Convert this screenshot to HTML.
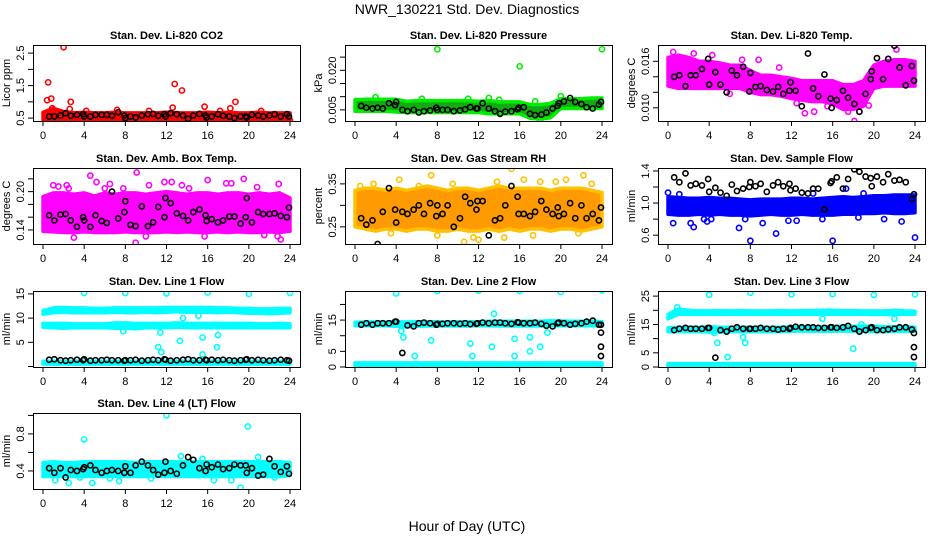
<!DOCTYPE html>
<html><head><meta charset="utf-8">
<style>
html,body{margin:0;padding:0;background:#fff;}
svg{display:block;font-family:"Liberation Sans",sans-serif;}
</style></head>
<body>
<svg id="chart" width="936" height="540" viewBox="0 0 936 540">
<text x="467" y="14" text-anchor="middle" font-size="14">NWR_130221  Std. Dev. Diagnostics</text>
<text x="467" y="531" text-anchor="middle" font-size="14">Hour of Day (UTC)</text>
</svg>
<script>
// ---------- data ----------
const bandHours = [0,1,2,3,4,5,6,7,8,9,10,11,12,13,14,15,16,17,18,19,20,21,22,23,24];
const blackHours = [0.6,1.1,1.7,2.2,2.7,3.3,3.9,4.0,4.6,5.1,5.7,6.2,6.7,7.3,7.9,8.0,8.5,9.0,9.6,10.2,10.7,11.2,11.8,11.9,12.4,13.0,13.6,14.1,14.6,15.2,15.8,15.9,16.4,17.0,17.5,18.1,18.6,19.2,19.7,19.8,20.3,20.9,21.4,22.0,22.5,23.1,23.7,23.9];
const xTicks = [0,4,8,12,16,20,24];

// P1 CO2
const co2Lo = [0.45,0.45,0.45,0.45,0.45,0.45,0.45,0.45,0.45,0.45,0.45,0.45,0.45,0.45,0.45,0.45,0.45,0.45,0.45,0.45,0.45,0.45,0.45,0.45,0.45];
const co2Hi = [0.68,0.8,0.7,0.66,0.68,0.66,0.66,0.68,0.66,0.66,0.66,0.66,0.68,0.66,0.66,0.66,0.68,0.66,0.68,0.66,0.66,0.68,0.66,0.66,0.66];
const co2OutX = [0.5,0.4,0.8,2.0,2.7,12.8,13.5,15.7,18.7,18.2,7.2,12.6,24.0,0.9,2.6,4.2,10.3,17.2,21.2];
const co2OutY = [1.6,1.05,1.1,2.68,1.0,1.55,1.35,0.85,1.0,0.8,0.75,0.82,0.42,0.8,0.78,0.72,0.72,0.72,0.72];
const co2Black = [0.55,0.55,0.58,0.65,0.57,0.6,0.62,0.55,0.55,0.6,0.6,0.6,0.57,0.68,0.58,0.5,0.55,0.52,0.58,0.62,0.63,0.57,0.62,0.55,0.65,0.62,0.58,0.48,0.58,0.63,0.58,0.52,0.55,0.62,0.57,0.55,0.5,0.55,0.55,0.52,0.6,0.58,0.55,0.58,0.62,0.55,0.62,0.55];

// P2 Pressure (kPa)
const presLo = [0.0045,0.0045,0.0045,0.0045,0.0042,0.004,0.004,0.004,0.004,0.004,0.004,0.004,0.004,0.0035,0.0035,0.0035,0.0035,0.0018,0.0015,0.002,0.0055,0.0055,0.0055,0.0055,0.0055];
const presHi = [0.0088,0.009,0.009,0.009,0.009,0.0082,0.0085,0.0085,0.0085,0.0085,0.0085,0.0085,0.0082,0.0085,0.008,0.008,0.008,0.007,0.007,0.0075,0.0092,0.0092,0.0092,0.0095,0.0095];
const presOutX = [8,16,24,13,18,2,6.5,11,14,17.5,20];
const presOutY = [0.028,0.0215,0.028,0.0095,0.001,0.0098,0.0092,0.0092,0.0088,0.0082,0.0102];
const presBlack = [6.5,5.8,5.5,5.8,5.5,7.5,6.8,8,5,4.5,5,4,4.5,4.8,5.8,5,5,5,4.5,4.8,5.2,6,5.5,5.5,7.5,5.5,4.5,3.5,4.3,4.5,5.2,5.8,6,3.5,3,3.2,4,5.5,6.5,7.5,8.2,9.5,8,7.2,6,5.5,7,8].map(v=>v/1000);

// P3 Li-820 Temp
const tempLo = [0.0128,0.0125,0.0125,0.0125,0.0125,0.0125,0.0125,0.0125,0.012,0.0117,0.0117,0.0115,0.0112,0.011,0.0108,0.0108,0.0105,0.0098,0.0098,0.0102,0.0125,0.0128,0.0128,0.0128,0.0128];
const tempHi = [0.0165,0.0168,0.0165,0.016,0.016,0.0158,0.0155,0.0155,0.0148,0.0142,0.0142,0.014,0.0138,0.0135,0.0135,0.0135,0.0135,0.013,0.013,0.0135,0.0155,0.016,0.0162,0.0162,0.016];
const tempOutX = [22.2,18.1,13.3,0.5,2.5,7.2,8.8,14.2,17.5,4.3,10.8,12.5,15.5,19.5,6.0];
const tempOutY = [0.0175,0.0083,0.0093,0.0172,0.0170,0.0162,0.0162,0.0095,0.0095,0.0168,0.0152,0.0106,0.0102,0.0103,0.0118];
const tempBlack = [14.0,14.2,12.8,14.2,14.2,15.0,16.3,13.0,14.6,13.0,12.0,14.8,14.2,15.3,12.1,14.5,12.7,12.8,12.3,12.1,12.7,11.8,12.2,13.3,12.2,10.2,17.0,12.5,11.5,14.3,11.2,10.0,11.0,12.2,11.3,10.5,9.5,11.8,13.7,14.7,16.4,13.7,16.3,18.0,15.2,12.9,15.4,13.5].map(v=>v/1000);

// P4 Amb Box Temp
const ambLo = [0.138,0.137,0.136,0.136,0.137,0.136,0.136,0.136,0.137,0.136,0.136,0.136,0.137,0.136,0.137,0.136,0.136,0.137,0.136,0.137,0.136,0.136,0.137,0.136,0.138];
const ambHi = [0.192,0.198,0.198,0.196,0.198,0.193,0.198,0.196,0.198,0.198,0.196,0.198,0.2,0.198,0.196,0.198,0.198,0.196,0.198,0.198,0.196,0.198,0.196,0.198,0.19];
const ambOutX = [4.6,9.1,9.0,22.8,1.0,12.5,16,19.5,5.2,1.5,2.3,6.5,7.8,10.3,11.8,13.5,14.2,17.8,18.3,20.8,22.9,0.2,3.0,10.0,15.7,21.5,23.1,2.5,6.0];
const ambOutY = [0.225,0.23,0.12,0.13,0.21,0.215,0.218,0.22,0.215,0.208,0.21,0.212,0.205,0.21,0.215,0.21,0.205,0.213,0.213,0.207,0.212,0.15,0.128,0.13,0.13,0.132,0.125,0.205,0.205];
const ambBlack = [0.163,0.155,0.164,0.165,0.155,0.145,0.160,0.155,0.145,0.163,0.154,0.151,0.20,0.158,0.168,0.185,0.148,0.146,0.177,0.146,0.152,0.176,0.160,0.190,0.182,0.166,0.162,0.155,0.168,0.172,0.163,0.154,0.157,0.152,0.155,0.161,0.161,0.150,0.160,0.190,0.152,0.168,0.165,0.165,0.166,0.162,0.160,0.175];

// P5 Gas Stream RH
const rhLo = [0.25,0.245,0.24,0.245,0.245,0.24,0.245,0.245,0.24,0.24,0.245,0.24,0.24,0.245,0.24,0.245,0.24,0.245,0.245,0.24,0.245,0.245,0.24,0.245,0.25];
const rhHi = [0.335,0.34,0.34,0.335,0.34,0.335,0.34,0.345,0.34,0.335,0.34,0.34,0.335,0.34,0.345,0.34,0.34,0.34,0.34,0.335,0.34,0.34,0.34,0.335,0.33];
const rhOutX = [15.2,10.6,22.2,4.3,7.4,19.5,12.0,1.8,6.2,9.5,13.8,16.4,18.0,20.5,23.0,0.5,3.5,8.0,11.5,14.5,17.3,21.7];
const rhOutY = [0.385,0.215,0.37,0.36,0.37,0.355,0.22,0.35,0.345,0.35,0.355,0.36,0.355,0.36,0.35,0.345,0.235,0.23,0.225,0.225,0.23,0.235];
const rhBlack = [0.27,0.255,0.265,0.21,0.285,0.34,0.29,0.26,0.285,0.28,0.29,0.30,0.28,0.305,0.275,0.30,0.28,0.30,0.25,0.27,0.32,0.305,0.29,0.31,0.31,0.23,0.265,0.27,0.30,0.345,0.32,0.28,0.28,0.275,0.285,0.31,0.29,0.28,0.295,0.275,0.28,0.305,0.27,0.30,0.27,0.28,0.265,0.295];

// P6 Sample Flow
const sfLo = [0.86,0.85,0.85,0.86,0.85,0.86,0.85,0.85,0.84,0.85,0.86,0.85,0.85,0.86,0.85,0.85,0.85,0.86,0.86,0.87,0.87,0.88,0.87,0.87,0.88];
const sfHi = [1.08,1.07,1.06,1.06,1.07,1.06,1.06,1.05,1.04,1.05,1.05,1.05,1.06,1.06,1.05,1.06,1.07,1.08,1.07,1.08,1.09,1.09,1.1,1.1,1.1];
const sfOutX = [8,16,24,10.5,0.5,2.5,0.0,3.8,6.9,22.7,1.1,2.2,4.2,9.2,11.7,14.1,17.3,19.0,3.5,7.5,12.5,15.0,18.5,21.0];
const sfOutY = [0.53,0.53,0.57,0.62,0.75,0.7,1.13,0.77,0.69,0.77,1.11,0.75,0.8,0.75,0.78,1.12,1.18,1.12,0.8,0.8,0.78,0.8,0.82,0.8];
const sfBlack = [1.32,1.26,1.37,1.22,1.24,1.22,1.30,1.14,1.19,1.13,1.09,1.23,1.15,1.18,1.20,1.26,1.21,1.24,1.14,1.22,1.26,1.21,1.24,1.16,1.18,1.13,1.12,1.18,1.18,0.92,1.25,1.27,1.32,1.18,1.30,1.42,1.39,1.33,1.31,1.21,1.33,1.26,1.36,1.28,1.29,1.26,1.05,1.11];

// P7 Line 1 Flow
const l1TopLo = [10.8,11.1,11.2,11.1,11.1,11.1,11.1,11.2,11.1,11.1,11.2,11.1,11.2,11.3,11.2,11.2,11.2,11.1,11.2,11.1,11.0,11.0,10.9,11.0,11.1];
const l1TopHi = [11.5,12.1,12.2,12.1,12.1,12.0,12.0,12.1,12.1,12.1,12.1,12.1,12.2,12.2,12.2,12.2,12.2,12.1,12.1,12.0,12.0,11.9,11.9,12.0,12.0];
const l1MidLo = [8.1,8.0,7.9,8.0,8.0,8.0,8.0,7.9,7.9,7.8,8.0,8.0,8.0,8.1,8.0,8.0,8.0,8.0,8.0,8.0,8.0,8.0,8.0,8.0,8.0];
const l1MidHi = [8.9,8.9,8.9,8.8,8.8,8.8,8.8,9.0,9.0,8.9,8.9,8.9,8.9,9.0,8.9,8.9,8.9,8.9,8.9,8.9,8.9,8.8,8.8,8.9,8.8];
const l1BotLo = [0.5,0.5,0.5,0.5,0.5,0.5,0.5,0.5,0.5,0.5,0.5,0.5,0.5,0.5,0.5,0.5,0.5,0.5,0.5,0.5,0.5,0.5,0.5,0.5,0.5];
const l1BotHi = [1.1,1.1,1.1,1.1,1.1,1.1,1.1,1.1,1.1,1.1,1.1,1.1,1.1,1.1,1.1,1.1,1.1,1.1,1.1,1.1,1.1,1.1,1.1,1.1,1.1];
const l1OutX = [4,8,12,16,20,24,11.2,11.5,13.3,15.5,15.5,16.9,17.0,11.4,7.8,15.1,13.6];
const l1OutY = [15.2,15.2,15.1,15.3,15.0,15.2,4.0,3.0,5.3,6.0,2.5,4.0,6.5,7.0,7.3,10.5,10.0];
const l1Black = [1.4,1.5,1.3,1.2,1.3,1.4,1.3,1.5,1.2,1.3,1.3,1.4,1.3,1.3,1.2,1.3,1.3,1.4,1.2,1.3,1.4,1.3,1.5,1.4,1.2,1.3,1.4,1.5,1.3,1.3,1.4,1.3,1.4,1.3,1.4,1.3,1.2,1.3,1.4,1.5,1.3,1.4,1.3,1.2,1.3,1.4,1.3,1.2];

// P8 Line 2 Flow
const l2TopLo = [13.2,13.2,13.2,13.2,13.0,12.8,13.0,13.1,13.1,13.1,13.1,13.1,13.2,13.2,13.1,13.1,13.1,13.1,13.1,13.2,13.2,13.2,13.2,13.2,13.2];
const l2TopHi = [14.3,14.4,14.4,14.4,14.5,14.4,14.5,14.5,14.5,14.4,14.5,14.5,14.5,14.6,14.6,14.6,14.6,14.6,14.6,14.8,14.7,14.6,14.6,14.7,14.5];
const l2BotLo = [0.3,0.3,0.3,0.3,0.3,0.3,0.3,0.3,0.3,0.3,0.3,0.3,0.3,0.3,0.3,0.3,0.3,0.3,0.3,0.3,0.3,0.3,0.3,0.3,0.3];
const l2BotHi = [1.3,1.3,1.3,1.3,1.3,1.3,1.3,1.3,1.3,1.3,1.3,1.3,1.3,1.3,1.3,1.3,1.3,1.3,1.3,1.3,1.3,1.3,1.3,1.3,1.3];
const l2OutX = [4,8,12,16,20,24,4.7,5.8,7.4,11.2,11.4,13.3,15.5,15.5,17.0,17.0,18.0,18.7,13.5,4.5];
const l2OutY = [23.5,24.3,24.4,24.3,24.0,24.5,9.5,3.5,8.5,7.5,3.5,6.5,9.0,3.5,9.5,5.0,6.5,11.0,17.0,11.5];
const l2Black = [13.5,14,13.5,14,14,14,14.5,14.5,4.5,13.3,13,14,14.2,14,13.5,13.8,13.8,14,14,13.8,14,13.7,13.8,14,14.2,14,14.2,14.2,14,13.8,14.3,14.2,14,14,14.2,13.8,13.2,13,14,14.2,14,13.5,13.8,14,14.5,14.8,13.5,13.5];
const l2ExtraX = [23.9,23.9,23.9];
const l2ExtraY = [11,6.5,3.5];

// P9 Line 3 Flow
const l3TopLo = [17.0,18.5,18.6,18.6,18.6,18.6,18.6,18.6,18.6,18.6,18.6,18.6,18.6,18.6,18.6,18.6,18.6,18.6,18.6,18.6,18.5,18.5,18.5,18.6,18.6];
const l3TopHi = [18.5,20.5,20.0,19.8,19.8,19.9,19.8,19.9,19.8,19.8,19.8,19.9,19.8,19.9,19.9,20.0,20.0,19.9,19.9,19.8,19.8,19.8,20.0,19.8,19.7];
const l3MidLo = [12.5,12.5,12.5,12.5,12.3,12.3,12.5,12.5,12.5,12.5,12.5,12.5,12.6,12.7,12.6,12.6,12.6,12.7,12.6,12.6,12.5,12.5,12.6,12.6,12.6];
const l3MidHi = [13.8,14.0,14.0,14.0,14.2,14.0,14.0,14.0,14.0,14.0,14.0,14.0,14.1,14.2,14.2,14.2,14.3,14.3,14.3,14.5,14.3,14.2,14.2,14.2,14.0];
const l3BotLo = [0.3,0.3,0.3,0.3,0.3,0.3,0.3,0.3,0.3,0.3,0.3,0.3,0.3,0.3,0.3,0.3,0.3,0.3,0.3,0.3,0.3,0.3,0.3,0.3,0.3];
const l3BotHi = [1.2,1.2,1.2,1.2,1.2,1.2,1.2,1.2,1.2,1.2,1.2,1.2,1.2,1.2,1.2,1.2,1.2,1.2,1.2,1.2,1.2,1.2,1.2,1.2,1.2];
const l3OutX = [4,8,12,16,20,24,4.8,5.8,7.3,7.5,18.0,0.9,15.0,22.0,4.5,18.8];
const l3OutY = [25.5,26.2,25.6,25.7,25.4,25.6,8.5,3.5,10.5,8.5,6.5,21.0,17.0,17.0,12.0,15.0];
const l3Black = [13,13.5,13.8,13.5,13.5,13.5,13.8,13.8,3.3,13,12.5,13.5,14,13.5,13.5,13.5,13.5,13.8,13.5,13.5,13.2,13.5,13.5,13.8,14.2,14,14,14,13.8,13.8,14,14,13.8,14,14.5,13.5,12.5,13,13.8,14,13,13,13.3,13.5,14,14,13.2,12];
const l3ExtraX = [23.9,23.9];
const l3ExtraY = [7,3.5];

// P10 Line 4 (LT) Flow
const l4Lo = [0.34,0.34,0.34,0.34,0.34,0.34,0.34,0.34,0.34,0.34,0.34,0.34,0.34,0.34,0.34,0.34,0.34,0.34,0.34,0.34,0.34,0.34,0.34,0.34,0.35];
const l4Hi = [0.49,0.5,0.49,0.49,0.5,0.5,0.5,0.5,0.5,0.49,0.5,0.5,0.5,0.5,0.5,0.5,0.5,0.5,0.5,0.5,0.5,0.5,0.5,0.5,0.49];
const l4OutX = [4,12,19.9,19.2,2.5,4.8,13.4,7.4,20.9,1.2,3.6,6.5,10.5,15.5,16.6,18.3,22.5];
const l4OutY = [0.74,1.0,0.88,0.22,0.27,0.27,0.56,0.29,0.55,0.3,0.33,0.32,0.32,0.53,0.3,0.3,0.33];
const l4Black = [0.43,0.38,0.43,0.33,0.41,0.40,0.42,0.44,0.46,0.41,0.38,0.40,0.41,0.40,0.38,0.45,0.38,0.46,0.50,0.46,0.41,0.36,0.38,0.50,0.40,0.37,0.46,0.55,0.52,0.43,0.40,0.47,0.44,0.47,0.42,0.43,0.47,0.46,0.46,0.38,0.43,0.35,0.36,0.53,0.45,0.39,0.45,0.37];

// ---------- drawing ----------
const NS = "http://www.w3.org/2000/svg";
const svg = document.getElementById('chart');
function mk(tag, attrs, parent){ const e=document.createElementNS(NS,tag); for(const k in attrs) e.setAttribute(k,attrs[k]); (parent||svg).appendChild(e); return e; }

const colLeft = [33,345,658], rowTop = [45,168,291,413];
const W = 267, H = 76;

const panels = [
 {key:'co2',title:'Stan. Dev. Li-820 CO2',ylab:'Licor ppm',r:0,c:0,dom:[0.41,2.75],ticks:[0.5,1,1.5,2,2.5],labels:['0.5','1.5','2.5'],fill:'#ff0000',edge:'#ff0000',
  bands:[[co2Lo,co2Hi]],ox:co2OutX,oy:co2OutY,by:co2Black},
 {key:'pressure',title:'Stan. Dev. Li-820 Pressure',ylab:'kPa',r:0,c:1,dom:[0.00077,0.0296],ticks:[0.005,0.01,0.015,0.02,0.025],labels:['0.005','0.020'],fill:'#11aa11',edge:'#00ee00',
  bands:[[presLo,presHi]],ox:presOutX,oy:presOutY,by:presBlack},
 {key:'li820-temp',title:'Stan. Dev. Li-820 Temp.',ylab:'degrees C',r:0,c:2,dom:[0.0083,0.0181],ticks:[0.010,0.012,0.014,0.016],labels:['0.010','0.016'],fill:'#ff00ff',edge:'#ff00ff',
  bands:[[tempLo,tempHi]],ox:tempOutX,oy:tempOutY,by:tempBlack},
 {key:'amb-box-temp',title:'Stan. Dev. Amb. Box Temp.',ylab:'degrees C',r:1,c:0,dom:[0.118,0.237],ticks:[0.14,0.16,0.18,0.20,0.22],labels:['0.14','0.20'],fill:'#ff00ff',edge:'#ff00ff',
  bands:[[ambLo,ambHi]],ox:ambOutX,oy:ambOutY,by:ambBlack},
 {key:'gas-stream-rh',title:'Stan. Dev. Gas Stream RH',ylab:'percent',r:1,c:1,dom:[0.21,0.387],ticks:[0.25,0.30,0.35],labels:['0.25','0.35'],fill:'#ff9a00',edge:'#ffc000',
  bands:[[rhLo,rhHi]],ox:rhOutX,oy:rhOutY,by:rhBlack},
 {key:'sample-flow',title:'Stan. Dev. Sample Flow',ylab:'ml/min',r:1,c:2,dom:[0.49,1.437],ticks:[0.6,0.8,1.0,1.2,1.4],labels:['0.6','1.0','1.4'],fill:'#0000ff',edge:'#0000ff',
  bands:[[sfLo,sfHi]],ox:sfOutX,oy:sfOutY,by:sfBlack},
 {key:'line1-flow',title:'Stan. Dev. Line 1 Flow',ylab:'ml/min',r:2,c:0,dom:[-0.1,15.6],ticks:[0,5,10,15],labels:['5','10','15'],fill:'#00ffff',edge:'#00ffff',
  bands:[[l1TopLo,l1TopHi],[l1MidLo,l1MidHi],[l1BotLo,l1BotHi]],ox:l1OutX,oy:l1OutY,by:l1Black},
 {key:'line2-flow',title:'Stan. Dev. Line 2 Flow',ylab:'ml/min',r:2,c:1,dom:[0,24.3],ticks:[0,5,10,15,20],labels:['0','5','15'],fill:'#00ffff',edge:'#00ffff',
  bands:[[l2TopLo,l2TopHi],[l2BotLo,l2BotHi]],ox:l2OutX,oy:l2OutY,by:l2Black,ex:l2ExtraX,ey:l2ExtraY},
 {key:'line3-flow',title:'Stan. Dev. Line 3 Flow',ylab:'ml/min',r:2,c:2,dom:[0,26.8],ticks:[0,5,10,15,20,25],labels:['0','5','15','25'],fill:'#00ffff',edge:'#00ffff',
  bands:[[l3TopLo,l3TopHi],[l3MidLo,l3MidHi],[l3BotLo,l3BotHi]],ox:l3OutX,oy:l3OutY,by:l3Black,ex:l3ExtraX,ey:l3ExtraY},
 {key:'line4-flow',title:'Stan. Dev. Line 4 (LT) Flow',ylab:'ml/min',r:3,c:0,dom:[0.205,1.026],ticks:[0.4,0.6,0.8,1.0],labels:['0.4','0.8'],fill:'#00ffff',edge:'#00ffff',
  bands:[[l4Lo,l4Hi]],ox:l4OutX,oy:l4OutY,by:l4Black}
];

panels.forEach(p=>{
  const L = colLeft[p.c], T = rowTop[p.r];
  const x0 = L+10, x1 = L+W-10;
  const xs = h => x0 + (x1-x0)*h/24;
  const ys = v => T+H - H*(v-p.dom[0])/(p.dom[1]-p.dom[0]);
  const g = mk('g',{});
  
  
  const clipId = 'clip-'+p.key;
  const cp = mk('clipPath',{id:clipId},g); mk('rect',{x:L,y:T,width:W,height:H},cp);
  const plot = mk('g',{'clip-path':'url(#'+clipId+')'},g);

  p.bands.forEach((b,bi)=>{
    const lo=b[0], hi=b[1];
    let pts = bandHours.map((h,i)=>xs(h).toFixed(1)+','+ys(hi[i]).toFixed(1));
    for(let i=bandHours.length-1;i>=0;i--) pts.push(xs(bandHours[i]).toFixed(1)+','+ys(lo[i]).toFixed(1));
    const poly = mk('polygon',{points:pts.join(' '),fill:p.fill,stroke:p.edge,'stroke-width':3.5,'stroke-linejoin':'round'},plot);
    
    
  });
  p.ox.forEach((h,i)=>{
    const c = mk('circle',{cx:xs(h),cy:ys(p.oy[i]),r:2.6,fill:'none',stroke:p.edge,'stroke-width':1.6},plot);
    
    
  });
  blackHours.forEach((h,i)=>{
    const c = mk('circle',{cx:xs(h),cy:ys(p.by[i]),r:2.6,fill:'none',stroke:'#000','stroke-width':1.6},plot);
    
    
  });
  if(p.ex){ p.ex.forEach((h,i)=>{
    const c = mk('circle',{cx:xs(h),cy:ys(p.ey[i]),r:2.6,fill:'none',stroke:'#000','stroke-width':1.6},plot);
    
    
  });}

  const box = mk('rect',{x:L+0.5,y:T+0.5,width:W,height:H,fill:'none',stroke:'#000','stroke-width':1},g);
  
  
  const t = mk('text',{x:L+W/2,y:T-6,'text-anchor':'middle','font-size':11,'font-weight':'bold'},g);
  t.textContent = p.title;
  
  
  xTicks.forEach(h=>{
    mk('line',{x1:xs(h),x2:xs(h),y1:T+H,y2:T+H+5,stroke:'#000'},g);
    const tx = mk('text',{x:xs(h),y:T+H+18,'text-anchor':'middle','font-size':11},g);
    tx.textContent = h;
    
    
  });
  p.ticks.forEach(v=>{
    mk('line',{x1:L-5,x2:L,y1:ys(v),y2:ys(v),stroke:'#000'},g);
  });
  p.labels.forEach(s=>{
    const y = ys(parseFloat(s));
    const ty = mk('text',{x:L-9,y:y,'text-anchor':'middle','font-size':11,transform:'rotate(-90 '+(L-9)+' '+y+')'},g);
    ty.textContent = s;
    
    
  });
  const yl = mk('text',{x:L-23,y:T+H/2,'text-anchor':'middle','font-size':11,transform:'rotate(-90 '+(L-23)+' '+(T+H/2)+')'},g);
  yl.textContent = p.ylab;
  
  
});
</script>
</body></html>
